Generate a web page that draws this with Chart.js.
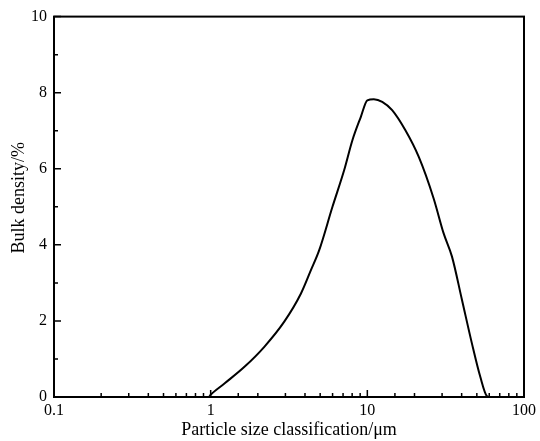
<!DOCTYPE html>
<html lang="en">
<head>
    <meta charset="UTF-8">
    <title>Particle size distribution</title>
    <script src="https://cdn.jsdelivr.net/npm/chart.js@4.4.4/dist/chart.umd.min.js"></script>
    <style>
        body {
            margin: 0;
            background-color: white;
        }
        #chart-box {
            width: 540px;
            height: 441px;
        }
    </style>
</head>
<body>
    <div id="chart-box">
        <canvas id="psd-chart" width="540" height="441"></canvas>
    </div>

    <script>
        // particle size (um) and bulk density (%)
        const sizes = [0.1, 0.5, 0.9, 0.97, 1.0, 1.23, 1.65, 2.2, 2.95, 3.77, 4.37, 4.93, 5.99, 7.11, 8.03, 9.08, 10, 11.0, 12.45, 14.4, 17.5, 21.3, 26.5, 30.7, 34.7, 40.2, 46.5, 52.6, 58, 60, 100];
        const density = [0, 0, 0, 0, 0.06, 0.36, 0.8, 1.32, 1.98, 2.72, 3.34, 3.86, 5.0, 5.96, 6.75, 7.36, 7.8, 7.83, 7.76, 7.54, 7.01, 6.31, 5.22, 4.3, 3.69, 2.55, 1.41, 0.53, 0.02, 0, 0];
        const xMajorLabels = [0.1, 1, 10, 100];
        const yLabels = [0, 2, 4, 6, 8, 10];

        const serif = "'Liberation Serif', 'Times New Roman', serif";

        function isDecade(v) {
            const l = Math.log10(v);
            return Math.abs(l - Math.round(l)) < 1e-9;
        }

        // frame on all four sides plus inward ticks, like the original plot
        const frameTicks = {
            id: 'frameTicks',
            afterDraw(chart) {
                const ctx = chart.ctx;
                const area = chart.chartArea;
                const xs = chart.scales.x;
                const ys = chart.scales.y;
                ctx.save();
                ctx.strokeStyle = '#000';
                ctx.lineWidth = 2;
                ctx.strokeRect(area.left, area.top, area.right - area.left, area.bottom - area.top);

                ctx.lineWidth = 1.5;
                ctx.beginPath();
                xs.ticks.forEach(t => {
                    const px = xs.getPixelForValue(t.value);
                    const len = isDecade(t.value) ? 7 : 4;
                    ctx.moveTo(px, area.bottom);
                    ctx.lineTo(px, area.bottom - len);
                });
                ys.ticks.forEach(t => {
                    const py = ys.getPixelForValue(t.value);
                    const len = yLabels.includes(t.value) ? 7 : 4;
                    ctx.moveTo(area.left, py);
                    ctx.lineTo(area.left + len, py);
                });
                ctx.stroke();
                ctx.restore();
            }
        };

        const points = sizes.map((s, i) => ({ x: s, y: density[i] }));

        new Chart(document.getElementById('psd-chart'), {
            type: 'scatter',
            data: {
                datasets: [{
                    data: points,
                    showLine: true,
                    borderColor: '#000',
                    borderWidth: 2,
                    pointRadius: 0,
                    cubicInterpolationMode: 'monotone',
                    clip: false
                }]
            },
            options: {
                responsive: false,
                animation: false,
                layout: {
                    padding: { top: 16, right: 14, left: 0, bottom: 0 }
                },
                plugins: {
                    legend: { display: false },
                    tooltip: { enabled: false }
                },
                scales: {
                    x: {
                        type: 'logarithmic',
                        min: 0.1,
                        max: 100,
                        grid: { display: false, tickLength: 0 },
                        border: { display: false },
                        afterFit: scale => { scale.height = 44; },
                        ticks: {
                            autoSkip: false,
                            maxRotation: 0,
                            padding: 4,
                            color: '#000',
                            font: { family: serif, size: 16 },
                            callback: v => xMajorLabels.some(m => Math.abs(m - v) < 1e-9) ? String(v) : ''
                        },
                        title: {
                            display: true,
                            text: 'Particle size classification/\u03bcm',
                            color: '#000',
                            padding: { top: -2, bottom: 0 },
                            font: { family: serif, size: 18 }
                        }
                    },
                    y: {
                        min: 0,
                        max: 10,
                        grid: { display: false, tickLength: 0 },
                        border: { display: false },
                        afterFit: scale => { scale.width = 54; },
                        ticks: {
                            stepSize: 1,
                            padding: 7,
                            color: '#000',
                            font: { family: serif, size: 16 },
                            callback: v => yLabels.includes(v) ? String(v) : ''
                        },
                        title: {
                            display: true,
                            text: '    Bulk density/%',
                            color: '#000',
                            padding: { top: 8, bottom: 0 },
                            font: { family: serif, size: 18 }
                        }
                    }
                }
            },
            plugins: [frameTicks]
        });
    </script>
</body>
</html>
